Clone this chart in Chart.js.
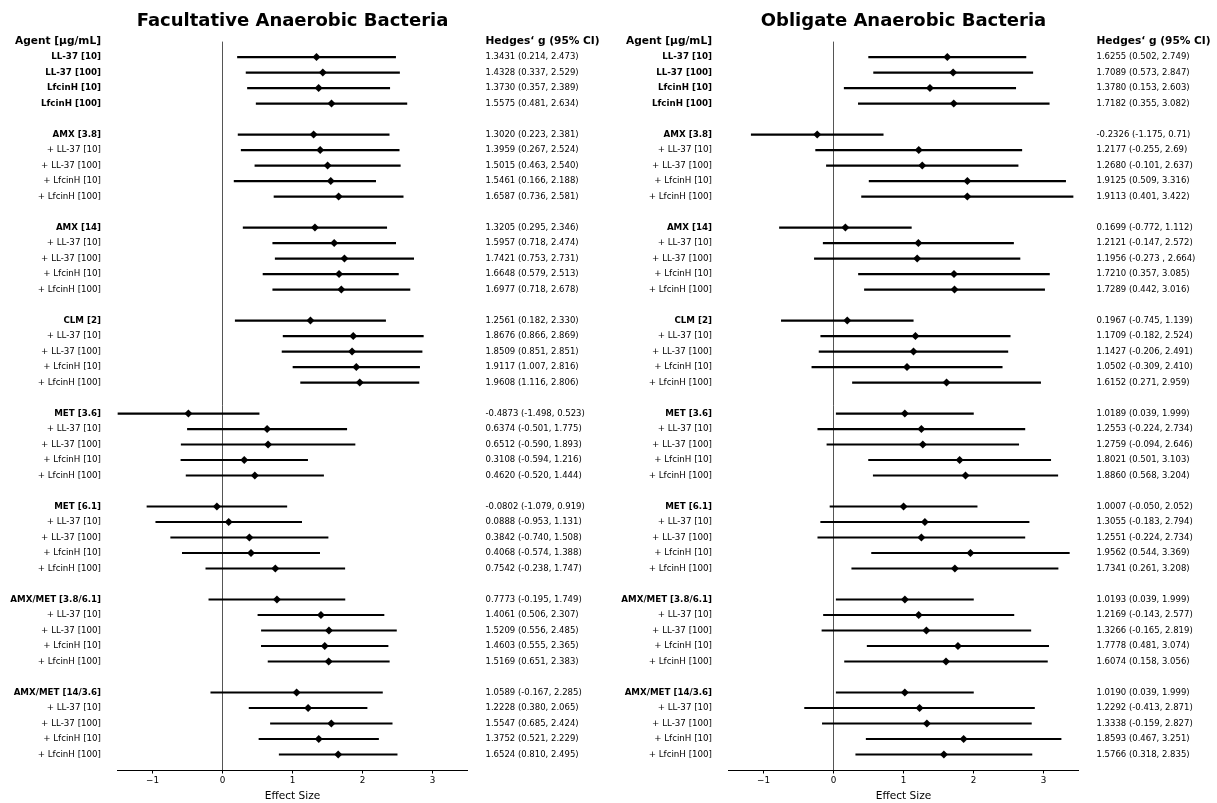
<!DOCTYPE html>
<html>
<head>
<meta charset="utf-8">
<script src="https://cdn.jsdelivr.net/npm/chart.js@4.4.1/dist/chart.umd.min.js"></script>
<style>
  html, body { margin: 0; padding: 0; background: #fff; }
  #wrap { position: relative; width: 1217px; height: 803px; overflow: hidden; }
  canvas { position: absolute; top: 0; }
  #fac { left: 0; }
  #obl { left: 611px; }
</style>
</head>
<body>
<div id="wrap">
  <canvas id="fac" width="611" height="803"></canvas>
  <canvas id="obl" width="606" height="803"></canvas>
</div>
<script>
const FONT = "'DejaVu Sans', sans-serif";

// Row labels (empty strings are spacer rows between groups)
const agentHeader = 'Agent [µg/mL]';
const ciHeader = 'Hedges‘ g (95% CI)';
const agents = [
  'LL-37 [10]', 'LL-37 [100]', 'LfcinH [10]', 'LfcinH [100]', '',
  'AMX [3.8]', '+ LL-37 [10]', '+ LL-37 [100]', '+ LfcinH [10]', '+ LfcinH [100]', '',
  'AMX [14]', '+ LL-37 [10]', '+ LL-37 [100]', '+ LfcinH [10]', '+ LfcinH [100]', '',
  'CLM [2]', '+ LL-37 [10]', '+ LL-37 [100]', '+ LfcinH [10]', '+ LfcinH [100]', '',
  'MET [3.6]', '+ LL-37 [10]', '+ LL-37 [100]', '+ LfcinH [10]', '+ LfcinH [100]', '',
  'MET [6.1]', '+ LL-37 [10]', '+ LL-37 [100]', '+ LfcinH [10]', '+ LfcinH [100]', '',
  'AMX/MET [3.8/6.1]', '+ LL-37 [10]', '+ LL-37 [100]', '+ LfcinH [10]', '+ LfcinH [100]', '',
  'AMX/MET [14/3.6]', '+ LL-37 [10]', '+ LL-37 [100]', '+ LfcinH [10]', '+ LfcinH [100]'
];

// Facultative anaerobic bacteria: Hedges' g with 95% CI bounds
const facG = [
  '1.3431', '1.4328', '1.3730', '1.5575', null,
  '1.3020', '1.3959', '1.5015', '1.5461', '1.6587', null,
  '1.3205', '1.5957', '1.7421', '1.6648', '1.6977', null,
  '1.2561', '1.8676', '1.8509', '1.9117', '1.9608', null,
  '-0.4873', '0.6374', '0.6512', '0.3108', '0.4620', null,
  '-0.0802', '0.0888', '0.3842', '0.4068', '0.7542', null,
  '0.7773', '1.4061', '1.5209', '1.4603', '1.5169', null,
  '1.0589', '1.2228', '1.5547', '1.3752', '1.6524'
];
const facLo = [
  '0.214', '0.337', '0.357', '0.481', null,
  '0.223', '0.267', '0.463', '0.166', '0.736', null,
  '0.295', '0.718', '0.753', '0.579', '0.718', null,
  '0.182', '0.866', '0.851', '1.007', '1.116', null,
  '-1.498', '-0.501', '-0.590', '-0.594', '-0.520', null,
  '-1.079', '-0.953', '-0.740', '-0.574', '-0.238', null,
  '-0.195', '0.506', '0.556', '0.555', '0.651', null,
  '-0.167', '0.380', '0.685', '0.521', '0.810'
];
const facHi = [
  '2.473', '2.529', '2.389', '2.634', null,
  '2.381', '2.524', '2.540', '2.188', '2.581', null,
  '2.346', '2.474', '2.731', '2.513', '2.678', null,
  '2.330', '2.869', '2.851', '2.816', '2.806', null,
  '0.523', '1.775', '1.893', '1.216', '1.444', null,
  '0.919', '1.131', '1.508', '1.388', '1.747', null,
  '1.749', '2.307', '2.485', '2.365', '2.383', null,
  '2.285', '2.065', '2.424', '2.229', '2.495'
];

// Obligate anaerobic bacteria: Hedges' g with 95% CI bounds
const oblG = [
  '1.6255', '1.7089', '1.3780', '1.7182', null,
  '-0.2326', '1.2177', '1.2680', '1.9125', '1.9113', null,
  '0.1699', '1.2121', '1.1956', '1.7210', '1.7289', null,
  '0.1967', '1.1709', '1.1427', '1.0502', '1.6152', null,
  '1.0189', '1.2553', '1.2759', '1.8021', '1.8860', null,
  '1.0007', '1.3055', '1.2551', '1.9562', '1.7341', null,
  '1.0193', '1.2169', '1.3266', '1.7778', '1.6074', null,
  '1.0190', '1.2292', '1.3338', '1.8593', '1.5766'
];
const oblLo = [
  '0.502', '0.573', '0.153', '0.355', null,
  '-1.175', '-0.255', '-0.101', '0.509', '0.401', null,
  '-0.772', '-0.147', '-0.273 ', '0.357', '0.442', null,
  '-0.745', '-0.182', '-0.206', '-0.309', '0.271', null,
  '0.039', '-0.224', '-0.094', '0.501', '0.568', null,
  '-0.050', '-0.183', '-0.224', '0.544', '0.261', null,
  '0.039', '-0.143', '-0.165', '0.481', '0.158', null,
  '0.039', '-0.413', '-0.159', '0.467', '0.318'
];
const oblHi = [
  '2.749', '2.847', '2.603', '3.082', null,
  '0.71', '2.69', '2.637', '3.316', '3.422', null,
  '1.112', '2.572', '2.664', '3.085', '3.016', null,
  '1.139', '2.524', '2.491', '2.410', '2.959', null,
  '1.999', '2.734', '2.646', '3.103', '3.204', null,
  '2.052', '2.794', '2.734', '3.369', '3.208', null,
  '1.999', '2.577', '2.819', '3.074', '3.056', null,
  '1.999', '2.871', '2.827', '3.251', '2.835'
];

// Effect-size axis
const xMin = -1.5, xMax = 3.5;
const xTickValues = [-1, 0, 1, 2, 3];

// Panel title centred over the plotting area
const panelTitle = {
  id: 'panelTitle',
  afterDraw(chart, args, opts) {
    const { ctx, chartArea } = chart;
    ctx.save();
    ctx.font = `bold 18px ${FONT}`;
    ctx.fillStyle = '#000';
    ctx.textAlign = 'center';
    ctx.textBaseline = 'alphabetic';
    ctx.fillText(opts.text, (chartArea.left + chartArea.right) / 2, 25.5);
    ctx.restore();
  }
};

function makePanel(el, title, g, lo, hi) {
  // header row at the top edge, then the rows, then an empty slot at the bottom edge
  const cats = [agentHeader, ...agents, ''];
  const ci = [ciHeader, ...g.map((v, i) => v === null ? '' : `${v} (${lo[i]}, ${hi[i]})`), ''];
  const isBold = i => i === 0 || (cats[i] !== '' && !cats[i].startsWith('+'));

  return new Chart(el, {
    type: 'bar',
    plugins: [panelTitle],
    data: {
      labels: cats,
      datasets: [
        {
          type: 'bar',
          data: [null, ...lo.map((v, i) => v === null ? null : [Number(v), Number(hi[i])]), null],
          backgroundColor: '#000',
          borderWidth: 0,
          barThickness: 1.5,
          xAxisID: 'x',
          yAxisID: 'y'
        },
        {
          type: 'line',
          indexAxis: 'y',
          data: [null, ...g.map(v => v === null ? null : Number(v)), null],
          showLine: false,
          pointStyle: 'rectRot',
          pointRadius: 4,
          pointBackgroundColor: '#000',
          pointBorderColor: '#000',
          pointBorderWidth: 0,
          xAxisID: 'x',
          yAxisID: 'y'
        }
      ]
    },
    options: {
      indexAxis: 'y',
      responsive: false,
      animation: false,
      events: [],
      layout: { padding: { top: 41.6, left: 0, right: 0, bottom: 0 } },
      plugins: {
        legend: { display: false },
        tooltip: { enabled: false },
        title: { display: false },
        panelTitle: { text: title }
      },
      scales: {
        x: {
          type: 'linear',
          position: 'bottom',
          min: xMin,
          max: xMax,
          afterBuildTicks: s => { s.ticks = xTickValues.map(v => ({ value: v })); },
          ticks: {
            color: '#000',
            padding: 2,
            font: { family: FONT, size: 8.8 },
            callback: v => v < 0 ? '\u2212' + Math.abs(v) : String(v)
          },
          grid: {
            drawOnChartArea: true,
            drawTicks: true,
            tickLength: 3.5,
            tickColor: '#000',
            lineWidth: 1,
            color: c => (c.tick && c.tick.value === 0) ? '#555' : 'rgba(0,0,0,0)'
          },
          border: { display: true, color: '#000', width: 1 },
          title: {
            display: true,
            text: 'Effect Size',
            color: '#000',
            font: { family: FONT, size: 10.6 },
            padding: 0
          },
          afterFit: s => { s.height = 33; }
        },
        y: {
          type: 'category',
          position: 'left',
          offset: false,
          grid: { display: false, drawTicks: false },
          border: { display: false },
          ticks: {
            autoSkip: false,
            color: '#000',
            padding: 16.5,
            font: c => ({ family: FONT, size: c.index === 0 ? 10.6 : 8.7, weight: isBold(c.index) ? 'bold' : 'normal' })
          },
          afterFit: s => { s.width = 117.5; }
        },
        yR: {
          type: 'category',
          position: 'right',
          labels: ci,
          offset: false,
          grid: { display: false, drawTicks: false },
          border: { display: false },
          ticks: {
            autoSkip: false,
            color: '#000',
            padding: 18,
            font: c => ({ family: FONT, size: c.index === 0 ? 10.6 : 8.5, weight: c.index === 0 ? 'bold' : 'normal' })
          },
          afterFit: s => { s.width = el.width - 467.5; }
        }
      }
    }
  });
}

makePanel(document.getElementById('fac'), 'Facultative Anaerobic Bacteria', facG, facLo, facHi);
makePanel(document.getElementById('obl'), 'Obligate Anaerobic Bacteria', oblG, oblLo, oblHi);
</script>
</body>
</html>
